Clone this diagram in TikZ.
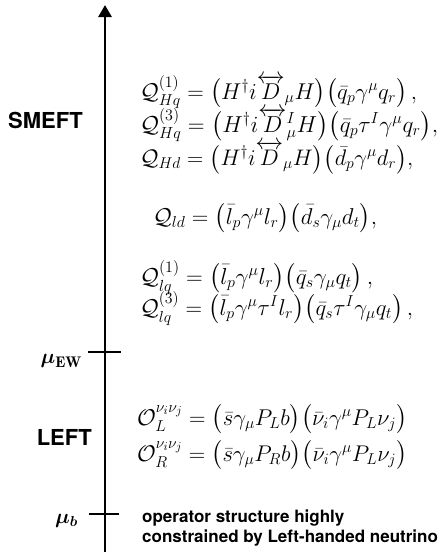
\documentclass[tikz,border=0pt]{standalone}
\usepackage{amsmath,amssymb,bm,graphicx}
\usepackage{fontspec}
\setsansfont{TeX Gyre Heros}
\usetikzlibrary{arrows.meta}
\newcommand\eqfit[2]{\resizebox{#1}{!}{$#2$}}
\begin{document}
\begin{tikzpicture}[x=1pt,y=-1pt,
  eq/.style={anchor=base west, inner sep=0pt, font=\fontsize{22}{26}\selectfont},
  lab/.style={anchor=east, inner sep=0pt, font=\fontsize{22}{26}\selectfont\sffamily\bfseries},
  scl/.style={anchor=east, inner sep=0pt, font=\fontsize{22}{26}\selectfont},
  note/.style={anchor=west, inner sep=0pt, align=left, font=\fontsize{17}{20}\selectfont\sffamily\bfseries},
  axis/.style={line width=2.8pt, -{Triangle[width=13pt,length=12pt]}},
  tickl/.style={line width=1.3pt}]
\useasboundingbox (0,0) rectangle (442,552);
\coordinate (axbot) at (105,552);
\coordinate (axtop) at (105,5);
\draw[axis] (axbot) -- (axtop);
% ticks
\coordinate (ewL) at (88,352); \coordinate (ewR) at (121,352);
\coordinate (bL) at (89,514); \coordinate (bR) at (119,514);
\draw[tickl] (ewL) -- (ewR);
\draw[tickl] (bL) -- (bR);
% labels
\node[lab] (smeft) at (83,120) {SMEFT};
\node[lab] (left) at (92,437) {LEFT};
\node[scl] (muew) at (82,361) {$\bm{\mu}_{\mathbf{EW}}$};
\node[scl] (mub) at (78,521) {$\bm{\mu_b}$};
% equations
\node[eq] (q1) at (140,99) {\eqfit{277pt}{\mathcal{Q}_{Hq}^{(1)} = \big(H^\dagger i\overleftrightarrow{D}_{\mu} H\big)\big(\bar q_p \gamma^\mu q_r\big)\,,}};
\node[eq] (q3) at (140,132) {\eqfit{298pt}{\mathcal{Q}_{Hq}^{(3)} = \big(H^\dagger i\overleftrightarrow{D}{}^{I}_{\mu} H\big)\big(\bar q_p \tau^I\gamma^\mu q_r\big),}};
\node[eq] (qd) at (140,165) {\eqfit{273pt}{\mathcal{Q}_{Hd} = \big(H^\dagger i\overleftrightarrow{D}_{\mu} H\big)\big(\bar d_p \gamma^\mu d_r\big),}};
\node[eq] (qld) at (153,224) {\eqfit{224pt}{\mathcal{Q}_{ld} = \big(\bar l_p \gamma^\mu l_r\big)\big(\bar d_s \gamma_\mu d_t\big),}};
\node[eq] (ql1) at (140,284) {\eqfit{233pt}{\mathcal{Q}_{lq}^{(1)} = \big(\bar l_p \gamma^\mu l_r\big)\big(\bar q_s \gamma_\mu q_t\big)\,,}};
\node[eq] (ql3) at (140,315) {\eqfit{273pt}{\mathcal{Q}_{lq}^{(3)} = \big(\bar l_p \gamma^\mu \tau^I l_r\big)\big(\bar q_s \tau^I\gamma_\mu q_t\big)\,,}};
\node[eq] (ol) at (137,425) {\eqfit{270pt}{\mathcal{O}_{L}^{\nu_i\nu_j} = \big(\bar s\gamma_\mu P_L b\big)\big(\bar\nu_i\gamma^\mu P_L\nu_j\big)}};
\node[eq] (or) at (137,461) {\eqfit{270pt}{\mathcal{O}_{R}^{\nu_i\nu_j} = \big(\bar s\gamma_\mu P_R b\big)\big(\bar\nu_i\gamma^\mu P_L\nu_j\big)}};
\node[note] (nt) at (142,528) {operator structure highly\\constrained by Left-handed neutrino};
\end{tikzpicture}
\end{document}
